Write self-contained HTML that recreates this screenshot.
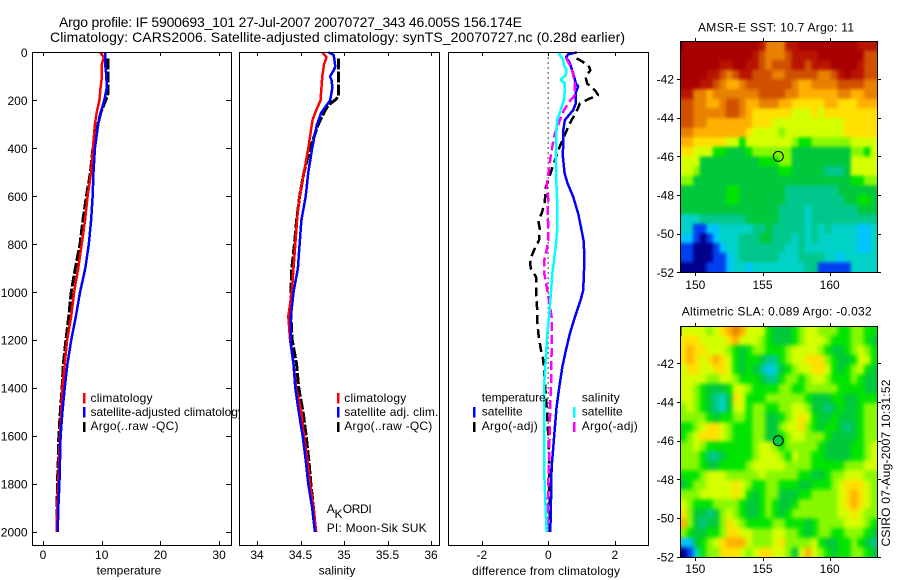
<!DOCTYPE html>
<html lang="en">
<head>
<meta charset="utf-8">
<title>Argo profile 5900693_101</title>
<style>
html,body{margin:0;padding:0;background:#fff;}
svg{display:block;}
text{font-family:"Liberation Sans",Arial,sans-serif;font-size:12px;fill:#000;}
.t{font-size:14px;}
</style>
</head>
<body>
<svg id="chart" xmlns="http://www.w3.org/2000/svg" width="900" height="580" viewBox="0 0 900 580">
  <defs>
    <filter id="blur-sst" x="-10%" y="-10%" width="120%" height="120%" color-interpolation-filters="sRGB"><feGaussianBlur stdDeviation="1.7"/></filter>
    <filter id="blur-sla" x="-10%" y="-10%" width="120%" height="120%" color-interpolation-filters="sRGB"><feGaussianBlur stdDeviation="2"/></filter>
    <clipPath id="clip-map-sst"><rect x="680" y="41" width="197" height="231"/></clipPath>
    <clipPath id="clip-map-sla"><rect x="680" y="326" width="197" height="231"/></clipPath>
  </defs>
  <rect x="0" y="0" width="900" height="580" fill="#fff"/>
  <text class="t" x="59" y="27" textLength="463" lengthAdjust="spacing">Argo profile: IF 5900693_101 27-Jul-2007 20070727_343 46.005S 156.174E</text>
  <text class="t" x="50" y="42" textLength="575" lengthAdjust="spacing">Climatology: CARS2006. Satellite-adjusted climatology: synTS_20070727.nc (0.28d earlier)</text>

  <g id="panel-t"></g>
  <g id="legend-t">
    <rect x="83" y="393" width="2.5" height="10.5" fill="#f00"/>
    <rect x="83" y="407" width="2.5" height="10.5" fill="#00f"/>
    <rect x="83" y="422" width="2.5" height="10" fill="#000"/>
    <text x="90.5" y="402" textLength="62">climatology</text>
    <text x="90.5" y="416">satellite-adjusted climatology</text>
    <text x="90.5" y="430" textLength="88">Argo(..raw -QC)</text>
  </g>

  <g id="panel-s"></g>
  <g id="legend-s">
    <rect x="337" y="393" width="2.5" height="10.5" fill="#f00"/>
    <rect x="337" y="407" width="2.5" height="10.5" fill="#00f"/>
    <rect x="337" y="422" width="2.5" height="10" fill="#000"/>
    <text x="344.3" y="402" textLength="62">climatology</text>
    <text x="344.3" y="416" textLength="94">satellite adj. clim.</text>
    <text x="344.3" y="430" textLength="88">Argo(..raw -QC)</text>
    <text x="326.7" y="513">A</text>
    <text x="334.5" y="518">K</text>
    <text x="342.7" y="513" textLength="29">ORDI</text>
    <text x="326.7" y="532" textLength="100">PI: Moon-Sik SUK</text>
  </g>

  <g id="panel-d"></g>
  <g id="legend-d">
    <text x="481.7" y="401.7" textLength="64">temperature</text>
    <rect x="473" y="407" width="2.5" height="10.5" fill="#00f"/>
    <rect x="473" y="422" width="2.5" height="10" fill="#000"/>
    <text x="481.7" y="415.7" textLength="41">satellite</text>
    <text x="481.7" y="430" textLength="56">Argo(-adj)</text>
    <text x="581.7" y="401.7" textLength="38">salinity</text>
    <rect x="573" y="407" width="2.5" height="10.5" fill="#0ff"/>
    <rect x="573" y="422" width="2.5" height="10" fill="#f0f"/>
    <text x="581.7" y="415.7" textLength="41">satellite</text>
    <text x="581.7" y="430" textLength="56">Argo(-adj)</text>
  </g>

  <g id="map-sst"></g>
  <g id="map-sla"></g>

  <text x="129" y="574.5" text-anchor="middle">temperature</text>
  <text x="337" y="574.5" text-anchor="middle">salinity</text>
  <text x="546" y="575" text-anchor="middle" textLength="148">difference from climatology</text>
  <text x="698" y="31.5" textLength="156">AMSR-E SST: 10.7 Argo: 11</text>
  <text x="681.7" y="315.5" textLength="190">Altimetric SLA: 0.089 Argo: -0.032</text>
  <text transform="translate(890 546.5) rotate(-90)" textLength="167">CSIRO 07-Aug-2007 10:31:52</text>
</svg>

<script>
// ---------- profile data ----------
var depthTicks = [0,200,400,600,800,1000,1200,1400,1600,1800,2000];
var tempTicks = [0,10,20,30];
var salTicks = [34,34.5,35,35.5,36];
var salTickLabels = ['34','34.5','35','35.5','36'];
var diffTicks = [-2,0,2];

var tempClimDepth = [0,20,50,100,150,200,250,300,400,500,600,700,800,900,1000,1100,1200,1300,1400,1500,1600,1700,1800,1900,2000];
var tempClimValue = [9.7,10.4,10,10.05,9.8,9.6,9.15,8.85,8.5,8.2,7.6,7.15,6.6,6,5.3,4.8,4.1,3.7,3.3,3.1,2.9,2.7,2.6,2.4,2.35];
var tempSatDepth = [0,50,100,150,200,250,300,400,500,600,700,800,900,1000,1100,1200,1300,1400,1500,1600,1700,1800,1900,2000];
var tempSatValue = [10.6,10.6,10.8,10.85,10.45,9.85,9.4,8.85,8.6,8.45,8.2,7.8,7.2,6.3,5.6,4.8,4.15,3.7,3.3,3,2.9,2.8,2.6,2.5];
var tempArgoDepth = [25,50,100,150,170,195,250,300,350,400,500,600,700,800,900,1000,1100,1200,1300,1400,1500,1600,1700,1800,1900,2000];
var tempArgoValue = [11.1,11.1,11.1,11.1,11.1,10.75,9.85,9.35,8.9,8.5,8.1,7.4,6.8,6.3,5.5,4.8,4.4,3.9,3.45,3.25,2.95,2.7,2.6,2.45,2.4,2.35];

var salClimDepth = [0,20,50,100,150,200,250,280,300,350,400,500,600,700,800,900,1000,1100,1200,1300,1400,1500,1600,1700,1800,1900,2000];
var salClimValue = [34.75,34.8,34.77,34.75,34.74,34.73,34.67,34.64,34.63,34.61,34.59,34.54,34.49,34.46,34.44,34.42,34.4,34.36,34.38,34.42,34.45,34.51,34.54,34.58,34.61,34.65,34.68];
var salSatDepth = [0,10,30,60,75,100,120,150,200,220,250,300,350,400,500,600,700,800,900,1000,1100,1200,1300,1400,1500,1600,1700,1800,1900,2000];
var salSatValue = [34.82,34.88,34.89,34.9,34.88,34.84,34.86,34.865,34.84,34.8,34.74,34.69,34.66,34.635,34.59,34.56,34.51,34.49,34.47,34.42,34.39,34.385,34.42,34.44,34.48,34.525,34.56,34.59,34.635,34.665];
var salArgoDepth = [25,100,180,195,220,250,300,400,500,600,700,800,900,1000,1100,1200,1300,1400,1500,1600,1700,1800,1900,2000];
var salArgoValue = [34.935,34.935,34.935,34.91,34.82,34.77,34.705,34.61,34.54,34.49,34.455,34.43,34.4,34.39,34.39,34.405,34.455,34.48,34.53,34.565,34.595,34.62,34.65,34.675];

var diffTSatDepth = [0,8,20,45,87,130,142,165,212,240,282,324,435,505,546,602,672,727,783,853,921,992,1033,1103,1172,1242,1312,1395,1478,1562,1645,1729,1868,2000];
var diffTSatValue = [0.85,0.6,0.53,0.65,0.75,0.83,0.9,0.83,0.83,0.75,0.5,0.45,0.44,0.49,0.58,0.75,0.9,0.98,1.06,1.09,1.07,1.05,0.97,0.8,0.65,0.53,0.42,0.33,0.25,0.2,0.15,0.1,0.08,0.06];
var diffTArgoDepth = [25,32,53,74,102,130,157,178,192,213,240,295,352,408,477,560,630,672,700,741,783,825,866,900,936,1005,1061,1103,1172,1242,1284,1380,1520,1660,1798,2000];
var diffTArgoValue = [0.85,0.95,1.2,1.27,1.12,1.17,1.4,1.5,1.25,0.95,0.87,0.65,0.47,0.3,0.13,-0.07,-0.11,-0.2,-0.3,-0.25,-0.28,-0.43,-0.55,-0.53,-0.37,-0.37,-0.34,-0.34,-0.3,-0.22,-0.15,-0.1,-0.03,0.02,0.03,0.05];
var diffSSatDepth = [0,11,32,53,74,95,113,130,157,199,241,282,338,435,533,644,741,839,922,1020,1103,1172,1312,1395,1478,1590,1729,1868,2000];
var diffSSatValue = [0.3,0.35,0.45,0.47,0.55,0.53,0.37,0.5,0.5,0.47,0.37,0.27,0.24,0.23,0.24,0.27,0.27,0.2,0.12,0.07,0.02,-0.03,-0.09,-0.13,-0.12,-0.13,-0.13,-0.09,-0.05];
var diffSArgoDepth = [22,53,74,130,178,199,241,282,338,394,435,505,560,616,672,727,783,825,866,922,992,1061,1103,1242,1380,1520,1660,1798,2000];
var diffSArgoValue = [0.53,0.65,0.72,0.8,0.8,0.67,0.47,0.35,0.2,0.12,0.07,0,-0.05,0,-0.02,0,0,-0.05,-0.12,-0.12,-0.03,0.05,0.1,0.1,0.08,0.05,0.03,0,-0.03];

// ---------- map data (colour-scale level per cell, north to south, west to east) ----------
var lonTicks = [150,155,160];
var latTicks = [-42,-44,-46,-48,-50,-52];
var argoLon = 156.174;
var argoLat = -46.005;
var sstGrid = [
[14,14,14,14,14,14,14,14,14,14,14,14,13,11,11,11,13,13,14,14,14,14,14,14,14,14,14,13,13,13],
[14,14,14,14,14,14,14,14,14,14,14,13,12,11,11,11,12,13,13,13,13,14,14,14,14,14,14,14,12,12],
[14,14,14,14,14,14,13,13,14,14,13,13,12,11,12,12,12,13,13,12,13,13,13,14,14,14,14,13,12,12],
[14,14,14,14,13,13,12,11,12,13,13,12,12,12,11,11,12,12,12,12,12,11,11,12,13,14,13,13,12,12],
[14,14,14,13,13,12,11,10,10,11,12,12,12,12,12,12,12,11,10,10,11,11,11,11,12,12,12,12,11,11],
[13,13,11,11,10,11,11,11,11,11,11,11,12,12,12,12,11,11,10,10,10,10,10,10,11,11,10,10,11,11],
[12,12,11,11,10,10,11,12,12,11,10,10,11,11,11,10,10,9,9,9,9,9,10,10,9,9,9,10,10,10],
[12,12,11,11,11,11,11,12,12,11,10,9,9,9,9,9,9,8,8,8,9,8,9,9,9,9,9,9,9,9],
[12,12,11,11,10,10,10,10,10,10,10,9,9,9,8,8,8,8,8,8,8,8,8,8,8,9,9,9,9,9],
[11,11,10,10,10,10,10,10,10,10,9,8,8,8,8,7,8,8,8,8,8,8,8,8,8,9,9,9,9,9],
[10,10,9,9,9,9,9,8,8,6,8,8,8,8,8,8,8,7,6,6,7,7,7,7,7,7,8,8,8,8],
[9,9,8,8,8,6,6,5,5,5,6,7,7,7,7,7,7,5,5,5,5,5,5,5,5,5,7,7,6,8],
[8,8,8,5,5,5,5,5,5,5,5,5,6,6,6,7,7,5,5,5,5,5,5,5,5,5,8,8,8,8],
[8,8,7,5,5,5,5,5,5,5,5,5,5,5,5,6,6,5,5,5,5,5,4,4,4,5,8,8,8,8],
[7,7,5,5,5,5,5,5,5,5,5,5,5,5,5,5,5,5,5,5,5,5,5,5,5,5,6,6,7,7],
[5,5,5,5,5,5,5,6,6,5,5,5,5,5,5,5,4,4,4,4,4,4,4,4,5,5,5,5,5,5],
[5,5,5,5,5,5,5,6,6,5,5,5,5,5,5,5,4,4,4,4,4,4,4,4,4,5,5,6,6,5],
[5,5,5,5,5,5,5,5,5,5,5,5,5,5,5,4,4,4,4,3,4,4,4,4,4,4,4,5,5,5],
[3,3,3,4,4,4,4,4,4,4,5,5,5,5,5,4,4,4,4,3,4,4,4,4,4,4,4,4,4,4],
[3,3,1,1,2,2,3,3,3,3,3,4,4,5,4,4,4,4,4,3,4,3,4,3,3,3,3,2,2,3],
[2,2,1,0,1,2,3,3,3,4,4,4,5,5,4,4,4,3,4,3,4,3,3,3,3,3,3,2,2,3],
[1,1,0,0,0,1,2,3,3,4,4,4,4,4,4,4,3,3,4,3,3,3,3,3,3,3,3,2,2,3],
[1,1,0,0,0,1,1,2,3,4,4,4,4,4,4,3,3,3,4,4,4,4,3,3,2,3,3,3,3,3],
[0,0,0,0,1,1,1,2,3,3,2,3,3,3,3,3,3,3,3,4,4,1,1,1,1,1,3,3,3,3]
];
var slaGrid = [
[8,8,8,8,7,8,9,10,11,10,8,8,8,6,5,5,5,6,7,8,8,7,7,7,6,6,7,7,6,6],
[9,9,9,8,8,8,8,9,10,8,8,8,7,6,5,5,5,6,7,8,8,8,7,6,6,6,7,7,6,5],
[9,10,9,9,8,8,8,7,6,5,6,7,7,6,6,6,7,8,8,8,8,7,6,5,5,6,7,8,7,6],
[9,10,9,8,9,10,9,8,6,5,6,6,5,4,4,6,7,8,8,9,9,9,7,6,5,5,6,8,8,6],
[8,9,9,8,8,9,9,8,6,5,6,5,4,2,3,5,6,7,8,8,9,9,8,6,5,6,7,8,6,5],
[8,8,8,8,7,7,8,8,7,6,6,6,5,4,4,6,7,7,6,7,8,8,7,6,6,6,7,6,5,5],
[8,8,7,6,5,5,5,6,8,8,7,6,6,6,6,7,7,6,6,7,7,7,7,7,6,6,6,6,5,5],
[8,8,7,6,5,4,3,5,9,8,6,6,6,7,7,7,7,7,7,6,5,5,5,6,6,5,5,6,6,6],
[7,8,7,6,5,4,3,5,8,8,6,7,7,6,6,7,7,8,8,7,5,5,4,5,6,5,5,6,7,7],
[7,7,7,7,6,5,6,6,7,7,6,7,7,5,5,6,7,8,9,8,6,5,5,6,5,5,5,6,7,7],
[6,6,7,8,9,9,8,7,6,6,6,7,7,5,5,7,8,8,9,7,6,5,6,6,5,4,5,6,7,7],
[6,7,8,9,9,9,8,7,6,6,6,7,7,5,5,6,7,8,8,7,7,7,6,5,5,5,5,6,7,7],
[7,7,8,7,6,6,6,6,6,6,6,7,8,8,7,6,7,7,7,7,7,6,5,5,5,5,6,6,7,8],
[7,7,7,6,4,4,5,6,6,6,6,7,8,8,8,7,6,8,7,7,6,6,5,5,5,5,6,6,7,8],
[7,7,7,6,5,5,6,6,6,6,7,8,8,8,8,8,7,7,7,7,6,6,6,6,6,7,7,7,8,8],
[6,6,6,7,8,8,8,7,7,7,7,7,8,7,7,7,7,7,6,6,5,5,6,7,7,8,8,8,7,7],
[5,6,7,7,8,8,8,8,9,8,7,6,6,7,7,6,6,6,5,5,6,6,6,7,8,9,9,9,8,7],
[7,7,7,8,8,8,8,8,9,8,6,5,6,7,7,5,5,5,6,6,7,7,7,7,8,9,10,9,8,7],
[8,7,6,6,6,7,7,7,7,6,5,5,6,7,6,5,5,6,7,7,7,7,7,7,8,9,10,9,8,7],
[9,7,5,5,4,5,7,8,7,6,5,5,6,7,6,5,6,7,7,7,7,7,7,7,8,8,9,8,7,7],
[10,7,5,4,5,5,7,9,8,7,6,6,6,6,7,7,6,6,6,5,6,7,7,7,7,8,8,8,7,6],
[7,6,5,5,6,6,7,9,9,8,8,7,7,7,8,8,7,7,6,5,6,7,7,6,6,7,7,7,6,5],
[2,2,5,6,7,8,9,10,10,10,8,7,7,7,8,9,7,7,7,7,8,6,5,5,6,6,7,6,5,4],
[0,1,3,6,7,7,9,9,9,8,7,8,9,9,8,8,7,5,8,10,8,7,6,5,6,6,7,7,6,5]
];
var levelColors = ['#00008c','#0040f0','#00c4ff','#00d2c8','#00c88c','#00c83c','#00e400','#88f800','#d4ff00','#ffe000','#ffb000','#e88000','#d05000','#b81400','#a80000'];

// ---------- axis functions ----------
function yDepth(d){ return 52.4 + d*0.23985; }
function xTemp(v){ return 43 + v*5.87; }
function xSal(v){ return 257 + (v-34)*87; }
function xDiff(v){ return 548.3 + v*33.25; }
function xLon(lon){ return 695.3 + (lon-150)*13.44; }
function ySst(lat){ return 79 + (-42-lat)*19.33; }
function ySla(lat){ return 363.3 + (-42-lat)*19.35; }

var NS = 'http://www.w3.org/2000/svg';
function mk(parent, tag, attrs){
  var el = document.createElementNS(NS, tag);
  for (var k in attrs) el.setAttribute(k, attrs[k]);
  parent.appendChild(el);
  return el;
}
function drawLine(parent, fx, depths, values, color, width, dash){
  var pts = [];
  for (var i=0;i<values.length;i++) pts.push(fx(values[i]).toFixed(1)+','+yDepth(depths[i]).toFixed(1));
  var a = {points:pts.join(' '), fill:'none', stroke:color, 'stroke-width':width, 'stroke-linejoin':'bevel', 'shape-rendering':'crispEdges'};
  if (dash) a['stroke-dasharray'] = dash;
  return mk(parent, 'polyline', a);
}
function frame(parent, x, y, w, h){
  return mk(parent, 'rect', {x:x+0.5, y:y+0.5, width:w, height:h, fill:'none', stroke:'#000', 'stroke-width':1, 'shape-rendering':'crispEdges'});
}

var L = 52, B = 545;

// ---------- temperature panel ----------
var gT = document.getElementById('panel-t');
var bgT = mk(gT, 'rect', {x:32, y:L, width:199, height:B-L, fill:'#fff'});


depthTicks.forEach(function(d){
  var y = Math.round(yDepth(d)) + 0.5;
  var t1 = mk(gT, 'path', {d:'M32 '+y+'h5M231 '+y+'h-5', stroke:'#000', fill:'none', 'shape-rendering':'crispEdges'});
  
  
  var lb = mk(gT, 'text', {x:27.5, y:yDepth(d)+4.5, 'text-anchor':'end'});
  lb.textContent = d;
  
  
});
tempTicks.forEach(function(v){
  var x = Math.round(xTemp(v)) + 0.5;
  var t1 = mk(gT, 'path', {d:'M'+x+' '+L+'v4M'+x+' '+B+'v-4', stroke:'#000', fill:'none', 'shape-rendering':'crispEdges'});
  
  
  var lb = mk(gT, 'text', {x:xTemp(v), y:559, 'text-anchor':'middle'});
  lb.textContent = v;
  
  
});
var lTA = drawLine(gT, xTemp, tempArgoDepth, tempArgoValue, '#000', 3, '11 2');


var lTC = drawLine(gT, xTemp, tempClimDepth, tempClimValue, '#f00', 2.5);


var lTS = drawLine(gT, xTemp, tempSatDepth, tempSatValue, '#00f', 2.5);


var fT = frame(gT, 32, L, 199, B-L);



// ---------- salinity panel ----------
var gS = document.getElementById('panel-s');
var bgS = mk(gS, 'rect', {x:239, y:L, width:200, height:B-L, fill:'#fff'});


salTicks.forEach(function(v, i){
  var x = Math.round(xSal(v)) + 0.5;
  var t1 = mk(gS, 'path', {d:'M'+x+' '+L+'v4M'+x+' '+B+'v-4', stroke:'#000', fill:'none', 'shape-rendering':'crispEdges'});
  
  
  var lb = mk(gS, 'text', {x:xSal(v), y:559, 'text-anchor':'middle'});
  lb.textContent = salTickLabels[i];
  
  
});
var lSA = drawLine(gS, xSal, salArgoDepth, salArgoValue, '#000', 3, '11 2');


var lSC = drawLine(gS, xSal, salClimDepth, salClimValue, '#f00', 2.5);


var lSS = drawLine(gS, xSal, salSatDepth, salSatValue, '#00f', 2.5);


var fS = frame(gS, 239, L, 200, B-L);



// ---------- difference panel ----------
var gD = document.getElementById('panel-d');
var bgD = mk(gD, 'rect', {x:448, y:L, width:200, height:B-L, fill:'#fff'});


diffTicks.forEach(function(v){
  var x = Math.round(xDiff(v)) + 0.5;
  var t1 = mk(gD, 'path', {d:'M'+x+' '+L+'v4M'+x+' '+B+'v-4', stroke:'#000', fill:'none', 'shape-rendering':'crispEdges'});
  
  
  var lb = mk(gD, 'text', {x:xDiff(v), y:559, 'text-anchor':'middle'});
  lb.textContent = v;
  
  
});
var zeroLine = mk(gD, 'line', {x1:xDiff(0), x2:xDiff(0), y1:yDepth(0), y2:yDepth(2000), stroke:'#000', 'stroke-width':1.2, 'stroke-dasharray':'1 4', 'shape-rendering':'crispEdges'});


var lDTA = drawLine(gD, xDiff, diffTArgoDepth, diffTArgoValue, '#000', 2.5, '9 5');


var lDTS = drawLine(gD, xDiff, diffTSatDepth, diffTSatValue, '#00f', 2.5);


var lDSA = drawLine(gD, xDiff, diffSArgoDepth, diffSArgoValue, '#f0f', 2.5, '9 4');


var lDSS = drawLine(gD, xDiff, diffSSatDepth, diffSSatValue, '#0ff', 2.5);


var fD = frame(gD, 448, L, 200, B-L);



// ---------- maps ----------
function drawMap(parentId, grid, yLat, top, bottom, tickLabelY, circleFill, clipId, filterId){
  var g = document.getElementById(parentId);
  var left = 680, right = 877;
  var rows = grid.length, cols = grid[0].length;
  var cw = (right-left)/cols, ch = (bottom-top)/rows;
  var clipG = mk(g, 'g', {'clip-path':'url(#'+clipId+')'});
  
  
  var imgG = mk(clipG, 'g', {filter:'url(#'+filterId+')'});
  
  
  var pad = 14;
  for (var r=0;r<rows;r++){
    for (var c=0;c<cols;c++){
      // edge cells extend past the clip so the smoothing does not fade at the border
      var x0 = left + c*cw - (c===0 ? pad : 0);
      var x1 = left + (c+1)*cw + (c===cols-1 ? pad : 0.6);
      var y0 = top + r*ch - (r===0 ? pad : 0);
      var y1 = top + (r+1)*ch + (r===rows-1 ? pad : 0.6);
      var cell = mk(imgG, 'rect', {x:x0.toFixed(2), y:y0.toFixed(2), width:(x1-x0).toFixed(2), height:(y1-y0).toFixed(2), fill:levelColors[grid[r][c]]});
      
      
    }
  }
  var box = frame(g, left, top, right-left, bottom-top);
  
  
  var mark = mk(g, 'rect', {x:left, y:top, width:1.5, height:10, fill:'#000'});
  
  
  lonTicks.forEach(function(lon){
    var x = Math.round(xLon(lon)) + 0.5;
    var t1 = mk(g, 'path', {d:'M'+x+' '+top+'v-3M'+x+' '+(bottom+1)+'v3', stroke:'#000', fill:'none', 'shape-rendering':'crispEdges'});
    
    
    var lb = mk(g, 'text', {x:xLon(lon), y:tickLabelY, 'text-anchor':'middle'});
    lb.textContent = lon;
    
    
  });
  latTicks.forEach(function(lat){
    var y = Math.round(yLat(lat)) + 0.5;
    var t1 = mk(g, 'path', {d:'M'+left+' '+y+'h-3M'+(right+1)+' '+y+'h3', stroke:'#000', fill:'none', 'shape-rendering':'crispEdges'});
    
    
    var lb = mk(g, 'text', {x:674, y:yLat(lat)+4.5, 'text-anchor':'end'});
    lb.textContent = lat;
    
    
  });
  var dot = mk(g, 'circle', {cx:xLon(argoLon), cy:yLat(argoLat), r:5, fill:circleFill, stroke:'#000', 'stroke-width':1});
  
  
}
drawMap('map-sst', sstGrid, ySst, 41, 272, 289, 'none', 'clip-map-sst', 'blur-sst');
drawMap('map-sla', slaGrid, ySla, 326, 557, 573, '#00c846', 'clip-map-sla', 'blur-sla');
</script>
</body>
</html>
